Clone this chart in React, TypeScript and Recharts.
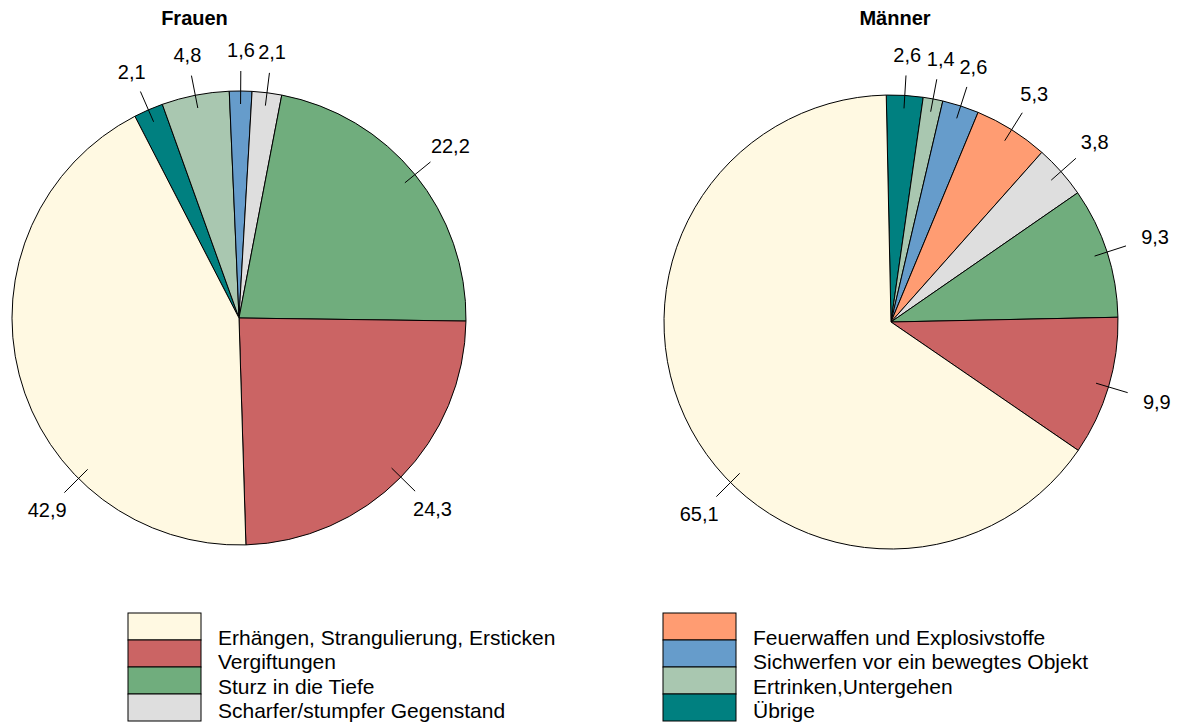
import { PieChart, Pie, Cell, Legend } from 'recharts';

const categories = [
  'Übrige',
  'Ertrinken,Untergehen',
  'Sichwerfen vor ein bewegtes Objekt',
  'Feuerwaffen und Explosivstoffe',
  'Scharfer/stumpfer Gegenstand',
  'Sturz in die Tiefe',
  'Vergiftungen',
  'Erhängen, Strangulierung, Ersticken',
];
const frauenValues = [2.1, 4.8, 1.6, 0, 2.1, 22.2, 24.3, 42.9];
const maennerValues = [2.6, 1.4, 2.6, 5.3, 3.8, 9.3, 9.9, 65.1];
const titles = ['Frauen', 'Männer'];

const COLORS = ['#008080', '#A9C7B0', '#669CCB', '#FF9C72', '#DEDEDE', '#70AD7D', '#CB6464', '#FFF9E2'];
const FONT = '"Liberation Sans", Arial, sans-serif';
const RAD = Math.PI / 180;

const toRows = (values: number[]) =>
  categories
    .map((name, i) => ({ name, value: values[i], color: COLORS[i] }))
    .filter((d) => d.value > 0);

const frauenData = toRows(frauenValues);
const maennerData = toRows(maennerValues);

const fmt = (v: number) => v.toFixed(1).replace('.', ',');

const renderLabel = (props: any) => {
  const { cx, cy, midAngle, outerRadius, value, percent, startAngle, endAngle } = props;
  let a = midAngle;
  // big slices get their label on the lower-left diagonal
  if (percent > 0.4) {
    const lo = Math.min(startAngle, endAngle);
    const hi = Math.max(startAngle, endAngle);
    for (const c of [-135, 225]) if (c >= lo && c <= hi) a = c;
  }
  const cos = Math.cos(-a * RAD);
  const sin = Math.sin(-a * RAD);
  const r1 = outerRadius - 13;
  const r2 = outerRadius + 20;
  const text = fmt(value);
  const fs = 20;
  const w = [...text].reduce((s, ch) => s + (ch === ',' ? 0.278 : 0.556), 0) * fs * 1.2;
  const h = 16;
  const t = Math.min(
    Math.abs(cos) > 1e-6 ? w / 2 / Math.abs(cos) : Infinity,
    Math.abs(sin) > 1e-6 ? h / 2 / Math.abs(sin) : Infinity
  );
  const d = r2 + 13 + t;
  return (
    <g>
      <line
        x1={cx + r1 * cos}
        y1={cy + r1 * sin}
        x2={cx + r2 * cos}
        y2={cy + r2 * sin}
        stroke="#000"
        strokeWidth={1}
      />
      <text
        x={cx + d * cos}
        y={cy + d * sin + 0.36 * fs}
        textAnchor="middle"
        fontFamily={FONT}
        fontSize={fs}
        fill="#000"
      >
        {text}
      </text>
    </g>
  );
};

const LegendBlock = () => {
  const order = [...categories].reverse();
  const cols = [order.slice(0, 4), order.slice(4)];
  const boxX = [128, 663];
  const textX = [218, 753];
  return (
    <svg width={1181} height={127}>
      {cols.map((col, c) =>
        col.map((name, i) => (
          <g key={name}>
            <rect
              x={boxX[c]}
              y={13 + i * 27}
              width={73}
              height={27}
              fill={COLORS[categories.indexOf(name)]}
              stroke="#000"
              strokeWidth={1}
            />
            <text x={textX[c]} y={45 + i * 24.4} fontFamily={FONT} fontSize={21} fill="#000">
              {name}
            </text>
          </g>
        ))
      )}
    </svg>
  );
};

export default function App() {
  return (
    <div style={{ position: 'absolute', left: 0, top: 0, width: 1181, height: 727, background: '#fff' }}>
      <PieChart width={1181} height={727} margin={{ top: 0, right: 0, bottom: 0, left: 0 }}>
        <Pie
          data={frauenData}
          dataKey="value"
          nameKey="name"
          cx={239}
          cy={318}
          outerRadius={227}
          startAngle={117.3}
          endAngle={-242.7}
          stroke="#000"
          strokeWidth={1}
          label={renderLabel}
          labelLine={false}
          isAnimationActive={false}
        >
          {frauenData.map((d) => (
            <Cell key={d.name} fill={d.color} />
          ))}
        </Pie>
        <Pie
          data={maennerData}
          dataKey="value"
          nameKey="name"
          cx={891}
          cy={322}
          outerRadius={227}
          startAngle={91.2}
          endAngle={-268.8}
          stroke="#000"
          strokeWidth={1}
          label={renderLabel}
          labelLine={false}
          isAnimationActive={false}
        >
          {maennerData.map((d) => (
            <Cell key={d.name} fill={d.color} />
          ))}
        </Pie>
        <Legend
          verticalAlign="bottom"
          wrapperStyle={{ left: 0, top: 600, width: 1181, height: 127 }}
          content={() => <LegendBlock />}
        />
      </PieChart>
      <svg
        width={1181}
        height={40}
        style={{ position: 'absolute', left: 0, top: 0, pointerEvents: 'none' }}
      >
        <text x={194.5} y={25} textAnchor="middle" fontFamily={FONT} fontSize={20} fontWeight="bold">
          {titles[0]}
        </text>
        <text x={895} y={25} textAnchor="middle" fontFamily={FONT} fontSize={20} fontWeight="bold">
          {titles[1]}
        </text>
      </svg>
    </div>
  );
}
